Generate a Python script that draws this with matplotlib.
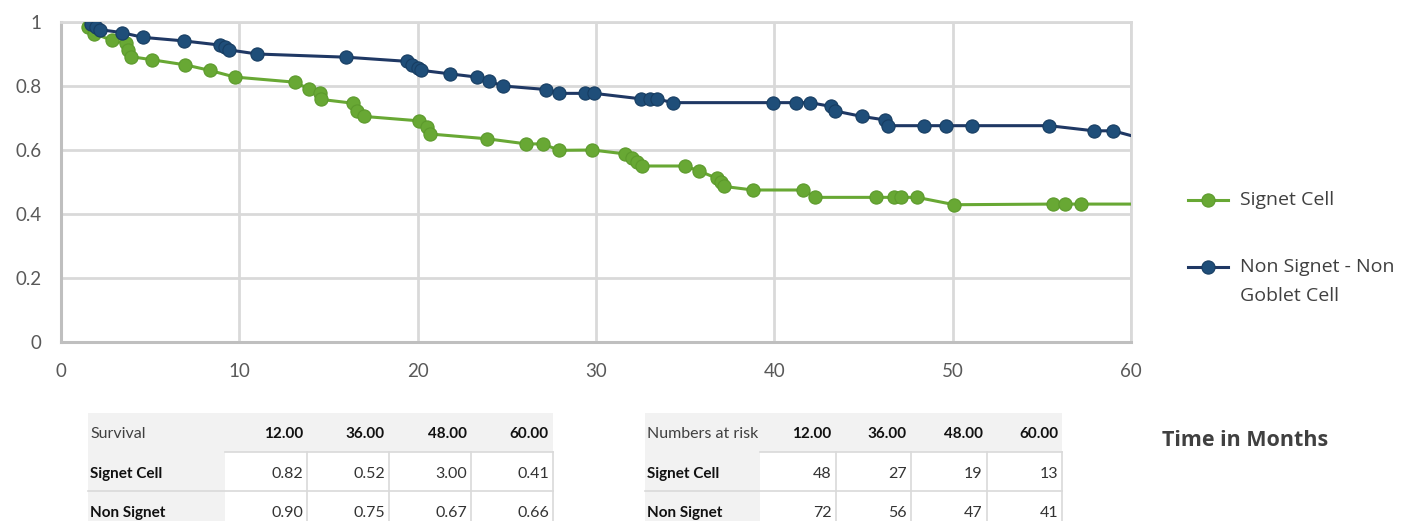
import matplotlib
matplotlib.use("Agg")
import matplotlib.pyplot as plt
from matplotlib.lines import Line2D
from matplotlib.patches import Rectangle

plt.rcParams['font.family'] = ['Lato', 'DejaVu Sans']

# survival curves (months, survival fraction)
signet_t = [1.5, 1.85, 2.85, 3.65, 3.75, 3.9, 5.1, 6.97, 8.33, 9.74, 13.1, 13.9, 14.5, 14.6,
            16.4, 16.6, 16.97, 20.1, 20.5, 20.7, 23.9, 26.1, 27.0, 27.95, 29.8, 31.6, 32.0,
            32.3, 32.6, 35.0, 35.8, 36.8, 37.0, 37.2, 38.8, 41.6, 42.3, 45.7, 46.7, 47.1,
            48.0, 50.1, 55.6, 56.3, 57.2, 60.0]
signet_s = [0.985, 0.964, 0.943, 0.933, 0.913, 0.892, 0.882, 0.866, 0.849, 0.828, 0.812, 0.791,
            0.779, 0.758, 0.746, 0.722, 0.705, 0.691, 0.671, 0.650, 0.635, 0.619, 0.619, 0.599,
            0.600, 0.588, 0.575, 0.563, 0.550, 0.550, 0.534, 0.511, 0.499, 0.486, 0.475, 0.475,
            0.452, 0.452, 0.452, 0.452, 0.452, 0.429, 0.431, 0.431, 0.431, 0.431]

non_t = [1.7, 1.95, 2.2, 3.4, 4.6, 6.87, 8.9, 9.2, 9.4, 11.0, 16.0, 19.4, 19.7, 20.0, 20.2,
         21.8, 23.3, 24.0, 24.8, 27.2, 27.95, 29.4, 29.9, 32.5, 33.0, 33.4, 34.3, 39.9, 41.2,
         42.0, 43.2, 43.4, 44.9, 46.2, 46.4, 48.4, 49.6, 51.1, 55.4, 57.9, 59.0, 60.0]
non_s = [0.993, 0.985, 0.976, 0.967, 0.952, 0.941, 0.928, 0.921, 0.913, 0.900, 0.890, 0.877,
         0.866, 0.856, 0.849, 0.838, 0.828, 0.815, 0.800, 0.789, 0.777, 0.777, 0.777, 0.760,
         0.760, 0.760, 0.748, 0.748, 0.748, 0.748, 0.736, 0.722, 0.705, 0.694, 0.676, 0.676,
         0.676, 0.676, 0.676, 0.660, 0.660, 0.645]

# tables
table_cols = ["12.00", "36.00", "48.00", "60.00"]
row_labels = ["Signet Cell", "Non Signet"]
survival_signet = ["0.82", "0.52", "3.00", "0.41"]
survival_non = ["0.90", "0.75", "0.67", "0.66"]
risk_signet = [48, 27, 19, 13]
risk_non = [72, 56, 47, 41]

green = '#68a834'
green_dark = '#5c9a2c'
blue = '#1f4e79'
navy = '#1f3864'
grid_c = '#d9d9d9'
text_c = '#404040'

W, H = 1417, 521
fig = plt.figure(figsize=(W / 100, H / 100), dpi=100)

ax = fig.add_axes([61 / W, (H - 342) / H, (1131 - 61) / W, (342 - 22) / H])
ax.plot(signet_t, signet_s, color=green, lw=2.2, marker='o', markersize=9.5,
        markerfacecolor=green, markeredgecolor=green_dark, markeredgewidth=0.8,
        markevery=list(range(len(signet_t) - 1)), zorder=3)
ax.plot(non_t, non_s, color=navy, lw=2.2, marker='o', markersize=9.5,
        markerfacecolor=blue, markeredgecolor='#173d62', markeredgewidth=0.8,
        markevery=list(range(len(non_t) - 1)), zorder=4)

ax.set_xlim(0, 60)
ax.set_ylim(0, 1)
ax.set_xticks(range(0, 61, 10))
ax.set_yticks([0, 0.2, 0.4, 0.6, 0.8, 1.0])
ax.set_yticklabels(["0", "0.2", "0.4", "0.6", "0.8", "1"])
ax.grid(True, color=grid_c, lw=2)
ax.set_axisbelow(True)
ax.tick_params(length=0, labelsize=13.5, labelcolor='#595959')
ax.tick_params(axis='y', pad=14)
ax.tick_params(axis='x', pad=15)
for s in ['top', 'right']:
    ax.spines[s].set_color(grid_c)
    ax.spines[s].set_linewidth(2)
for s in ['left', 'bottom']:
    ax.spines[s].set_color('#bfbfbf')
    ax.spines[s].set_linewidth(2.2)

# legend, drawn by hand to keep the Excel look
def legend_entry(y, color, face, edge, label):
    fig.add_artist(Line2D([1188 / W, 1228 / W], [1 - y / H, 1 - y / H], color=color, lw=2.2,
                          transform=fig.transFigure))
    fig.add_artist(Line2D([1208 / W], [1 - y / H], marker='o', markersize=9.5, color=face,
                          markeredgecolor=edge, markeredgewidth=0.8, transform=fig.transFigure))
    fig.text(1240 / W, 1 - y / H, label, fontsize=14, color=text_c, va='center', ha='left',
             family='Open Sans')

legend_entry(200, green, green, green_dark, "Signet Cell")
legend_entry(267, navy, blue, '#173d62', "Non Signet - Non")
fig.text(1240 / W, 1 - 296 / H, "Goblet Cell", fontsize=14, color=text_c, va='center', ha='left',
         family='Open Sans')

fig.text(1245 / W, 1 - 440 / H, "Time in Months", fontsize=15.5, fontweight='bold',
         color=text_c, ha='center', va='center', family='Open Sans')

# tables below the chart
tax = fig.add_axes([0, 0, 1, 1])
tax.set_xlim(0, W)
tax.set_ylim(H, 0)
tax.axis('off')
tax.patch.set_visible(False)

def draw_table(left, label_w, col_w, title, rows):
    top, hh, rh = 413, 39, 39
    right = left + label_w + col_w * len(table_cols)
    tax.add_patch(Rectangle((left, top), right - left, hh, color='#f2f2f2', lw=0))
    tax.add_patch(Rectangle((left, top + hh), label_w, rh * 2, color='#f2f2f2', lw=0))
    x0 = left + label_w
    tax.plot([x0, right], [top + hh, top + hh], color=grid_c, lw=1.2)
    tax.plot([left, right], [top + hh + rh, top + hh + rh], color=grid_c, lw=1.2)
    for i in range(1, len(table_cols) + 1):
        xl = x0 + i * col_w
        tax.plot([xl, xl], [top + hh, top + hh + 2 * rh], color=grid_c, lw=1.2)
    tax.text(left + 2, top + 21, title, fontsize=11.5, color=text_c, ha='left', va='center')
    for i, c in enumerate(table_cols):
        tax.text(x0 + (i + 1) * col_w - 4, top + 21, c, fontsize=11, fontweight='bold',
                 color='#111111', ha='right', va='center')
    for r, (lab, vals) in enumerate(zip(row_labels, rows)):
        yc = top + hh + rh * r + 22
        tax.text(left + 2, yc, lab, fontsize=11, fontweight='bold', color='#111111',
                 ha='left', va='center')
        for i, v in enumerate(vals):
            tax.text(x0 + (i + 1) * col_w - 4, yc, str(v), fontsize=11.5, color='#333333',
                     ha='right', va='center')

draw_table(88, 137, 82, "Survival", [survival_signet, survival_non])
draw_table(645, 115, 75.5, "Numbers at risk", [risk_signet, risk_non])

fig.savefig("out.png", dpi=100)
